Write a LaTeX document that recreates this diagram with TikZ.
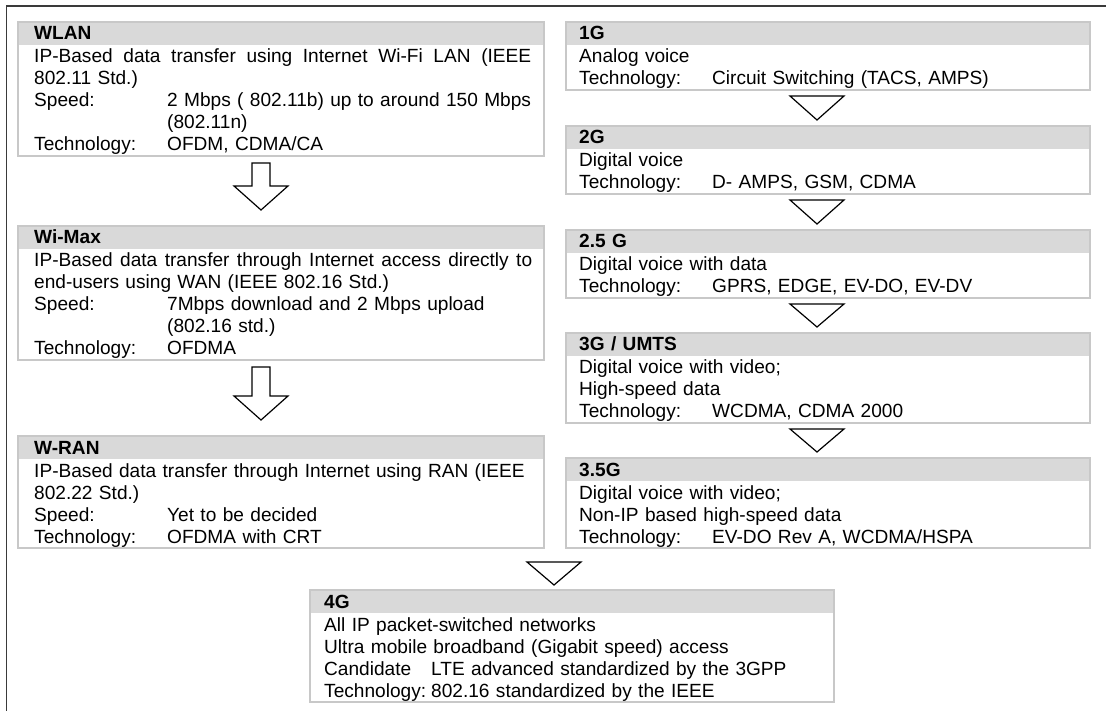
\documentclass[tikz,border=0pt]{standalone}
\usepackage{fontspec}
\setmainfont{Liberation Sans}
\usetikzlibrary{calc}
\definecolor{hdr}{HTML}{D9D9D9}
\definecolor{bord}{HTML}{C8C8C8}
\definecolor{framecol}{HTML}{3A3A3A}
\newcommand\tb[2]{\makebox[#1][l]{#2}}
\newcommand\tri[3]{% from, to, x offset
  \draw[arrowshape] ($(#1.south)+(#3-27,6)$) -- ($(#1.south)+(#3+27,6)$) -- ($(#2.north)+(#3,-6)$) -- cycle;}
\newcommand\blockarrow[3]{% from, to, x offset
  \coordinate (#1top) at ($(#1.south)+(#3,7)$);
  \coordinate (#1tip) at ($(#2.north)+(#3,-16)$);
  \draw[arrowshape] ($(#1top)+(-9,0)$) -- ($(#1top)+(9,0)$) -- ($(#1tip)+(9,-24)$) -- ($(#1tip)+(27,-24)$) -- (#1tip) -- ($(#1tip)+(-27,-24)$) -- ($(#1tip)+(-9,-24)$) -- cycle;}
\begin{document}
\begin{tikzpicture}[x=1pt,y=-1pt,
  gbox/.style={draw=bord, line width=1.2pt, inner sep=0pt, outer sep=0pt, anchor=north west,
    path picture={\fill[hdr] (path picture bounding box.north west) rectangle ([yshift=-23pt]path picture bounding box.north east);}},
  body/.style={anchor=base west, inner sep=0pt, align=left, text width=#1,
    font=\fontsize{19.1}{22}\selectfont},
  arrowshape/.style={draw=black, line width=1.2pt, line join=miter, fill=white}]
\useasboundingbox (0,0) rectangle (1106,711);
\draw[framecol, line width=1.5pt] (6.5,711) -- (6.5,6) -- (1106,6);

% left column
\node[gbox, minimum width=526pt, minimum height=134pt] (wlan) at (18,22) {};
\node[gbox, minimum width=526pt, minimum height=134pt] (wimax) at (18,226) {};
\node[gbox, minimum width=526pt, minimum height=112pt] (wran) at (18,436) {};
% right column
\node[gbox, minimum width=524pt, minimum height=68pt] (g1) at (566,22) {};
\node[gbox, minimum width=524pt, minimum height=68pt] (g2) at (566,126) {};
\node[gbox, minimum width=524pt, minimum height=68pt] (g25) at (566,230) {};
\node[gbox, minimum width=524pt, minimum height=90pt] (g3) at (566,333) {};
\node[gbox, minimum width=524pt, minimum height=90pt] (g35) at (566,458) {};
% bottom
\node[gbox, minimum width=524pt, minimum height=112pt] (g4) at (310,590) {};

% texts
\node[body=520pt] (wlant) at ([xshift=16pt,yshift=-18pt]wlan.north west) {\textbf{WLAN}\\[1pt]
\leavevmode\hbox to 497pt{IP-Based\hfill data\hfill transfer\hfill using\hfill Internet\hfill Wi-Fi\hfill LAN\hfill (IEEE}\\
802.11 Std.)\\
\tb{133pt}{Speed:}2 Mbps ( 802.11b) up to around 150 Mbps\\
\hspace*{133pt}(802.11n)\\
\tb{133pt}{Technology:}OFDM, CDMA/CA};

\node[body=520pt] (wimaxt) at ([xshift=16pt,yshift=-18pt]wimax.north west) {\textbf{Wi-Max}\\[1pt]
\leavevmode\hbox to 498pt{IP-Based\hfill data\hfill transfer\hfill through\hfill Internet\hfill access\hfill directly\hfill to}\\
end-users using WAN (IEEE 802.16 Std.)\\
\tb{133pt}{Speed:}7Mbps download and 2 Mbps upload\\
\hspace*{133pt}(802.16 std.)\\
\tb{133pt}{Technology:}OFDMA};

\node[body=520pt] (wrant) at ([xshift=16pt,yshift=-18pt]wran.north west) {\textbf{W-RAN}\\[1pt]
IP-Based data transfer through Internet using RAN (IEEE\\
802.22 Std.)\\
\tb{133pt}{Speed:}Yet to be decided\\
\tb{133pt}{Technology:}OFDMA with CRT};

\node[body=505pt] (g1t) at ([xshift=13pt,yshift=-18pt]g1.north west) {\textbf{1G}\\[1pt]
Analog voice\\
\tb{133pt}{Technology:}Circuit Switching (TACS, AMPS)};

\node[body=505pt] (g2t) at ([xshift=13pt,yshift=-18pt]g2.north west) {\textbf{2G}\\[1pt]
Digital voice\\
\tb{133pt}{Technology:}D- AMPS, GSM, CDMA};

\node[body=505pt] (g25t) at ([xshift=13pt,yshift=-18pt]g25.north west) {\textbf{2.5 G}\\[1pt]
Digital voice with data\\
\tb{133pt}{Technology:}GPRS, EDGE, EV-DO, EV-DV};

\node[body=505pt] (g3t) at ([xshift=13pt,yshift=-18pt]g3.north west) {\textbf{3G / UMTS}\\[1pt]
Digital voice with video;\\
High-speed data\\
\tb{133pt}{Technology:}WCDMA, CDMA 2000};

\node[body=505pt] (g35t) at ([xshift=13pt,yshift=-18pt]g35.north west) {\textbf{3.5G}\\[1pt]
Digital voice with video;\\
Non-IP based high-speed data\\
\tb{133pt}{Technology:}EV-DO Rev A, WCDMA/HSPA};

\node[body=505pt] (g4t) at ([xshift=14pt,yshift=-18pt]g4.north west) {\textbf{4G}\\[1pt]
All IP packet-switched networks\\
Ultra mobile broadband (Gigabit speed) access\\
\tb{107pt}{Candidate}LTE advanced standardized by the 3GPP\\
\tb{107pt}{Technology:}802.16 standardized by the IEEE};

% connectors
\tri{g1}{g2}{-11}
\tri{g2}{g25}{-11}
\tri{g25}{g3}{-11}
\tri{g3}{g35}{-11}
\coordinate (c4) at ($(g4.north)+(-18,-28)$);
\draw[arrowshape] ($(c4)+(-27,0)$) -- ($(c4)+(27,0)$) -- ($(g4.north)+(-18,-5)$) -- cycle;
\blockarrow{wlan}{wimax}{-20}
\blockarrow{wimax}{wran}{-20}
\end{tikzpicture}
\end{document}
